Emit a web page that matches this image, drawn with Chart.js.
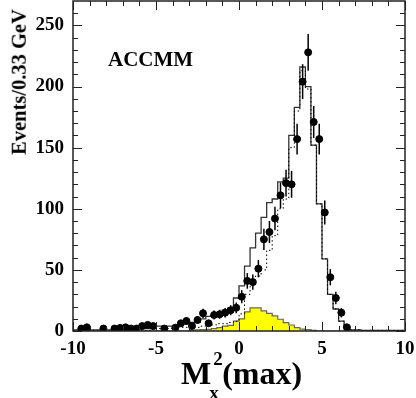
<!DOCTYPE html>
<html lang="en">
<head>
<meta charset="UTF-8">
<title>ACCMM M_x^2(max)</title>
<script src="https://cdn.jsdelivr.net/npm/chart.js"></script>
<style>
  body { margin: 0; background: #fff; }
  #wrap { position: relative; width: 416px; height: 398px; overflow: hidden; font-family: "Liberation Serif", "DejaVu Serif", serif; font-weight: bold; color: #000; }
  #wrap canvas { position: absolute; left: 0; top: 0; }
  .lbl { position: absolute; white-space: nowrap; line-height: 1; }
  #ytitle { font-size: 20.5px; left: 19px; top: 82px; transform: translate(-50%, -50%) rotate(-90deg); }
  #model { font-size: 21px; left: 108px; top: 49px; }
  #xtitle { font-size: 32px; left: 181px; top: 357px; }
  #xtitle .ss { display: inline-block; position: relative; width: 11px; height: 1px; }
  #xtitle .sup { position: absolute; left: 2px; top: -34px; font-size: 19px; }
  #xtitle .sub { position: absolute; left: -2px; top: 0px; font-size: 19px; }
</style>
</head>
<body>
<div id="wrap">
  <canvas id="c" width="416" height="398"></canvas>
  <div class="lbl" id="ytitle">Events/0.33 GeV</div>
  <div class="lbl" id="model">ACCMM</div>
  <div class="lbl" id="xtitle">M<span class="ss"><span class="sup">2</span><span class="sub">x</span></span>(max)</div>
</div>
<script>
// 60 bins of 0.33 GeV from -10 to 10
const nBins = 60;
const binEdges = Array.from({ length: nBins + 1 }, (_, k) => -10 + k / 3);
const binCenters = Array.from({ length: nBins }, (_, k) => -10 + (k + 0.5) / 3);

// data points (null = empty bin)
const dataValues = [
  null, 2, 3, null, null, 2, null, 2, 2.5, 3,
  2, 2, 4, 5, 4, null, 2, null, 2.7, 6.3,
  8.2, 4.1, 9, 14.5, 6.3, 13.1, 13.7, 15, 17, 19,
  28, 41, 40, 51, 75, 81, 92, 111, 121, 120,
  157, 204, 228, 171, 157, 97, 44, 27, 15, 3,
  null, null, null, null, null, null, null, null, null, null
];
const dataErrors = [
  0, 1.4, 1.7, 0, 0, 1.4, 0, 1.4, 1.6, 1.7,
  1.4, 1.4, 2, 2.2, 2, 0, 1.4, 0, 1.6, 2.5,
  2.9, 2, 3, 3.8, 2.5, 3.6, 3.7, 3.9, 4.1, 4.4,
  5.3, 6.4, 6.3, 7.1, 8.7, 9, 9.6, 10.5, 11, 11,
  12.5, 14.3, 15.1, 13.1, 12.5, 9.8, 6.6, 5.2, 3.9, 1.7,
  0, 0, 0, 0, 0, 0, 0, 0, 0, 0
];
// solid histogram
const solidHist = [
  1, 1, 1, 1, 1, 1, 1, 1, 1.5, 1.5,
  1.5, 2, 2, 2, 2, 4, 4, 4, 4, 4,
  6, 6, 7, 7, 10, 12, 13, 14, 17, 19,
  27, 37, 53, 68, 80, 93, 105, 108, 122, 125,
  160, 183, 216, 200, 152, 104, 59, 30, 18, 8,
  3, 1, 1, 0.5, 0.5, 0.5, 0.5, 0.5, 0.5, 0.5
];
// dotted histogram
const dottedHist = [
  0.5, 0.5, 0.5, 0.5, 0.5, 0.5, 0.5, 0.5, 0.5, 0.5,
  0.5, 0.5, 0.5, 0.5, 0.5, 2, 2, 2, 2, 2,
  3, 3, 3, 3, 4, 5, 5, 6, 6, 7,
  8, 14, 30, 38, 45, 50, 66, 78, 100, 108,
  150, 180, 213, 198, 152, 104, 59, 30, 18, 8,
  3, 1, 1, 0.5, 0.5, 0.5, 0.5, 0.5, 0.5, 0.5
];
// yellow filled histogram
const yellowHist = [
  0, 0, 0, 0, 0, 0, 0, 0, 0, 0,
  0, 0, 0, 0, 0, 0, 0, 0, 0, 0,
  0, 0, 0.5, 1, 1.2, 1.4, 2, 2.7, 4, 4.6,
  8, 10, 15.6, 19, 19, 16.4, 14.5, 12.3, 9.6, 6.8,
  4.9, 2.7, 1.5, 1.2, 0.5, 0, 0, 0, 0, 0,
  0, 0, 0, 0, 0, 0, 0, 0, 0, 0
];

const xMajor = [-10, -5, 0, 5, 10];
const yMajor = [0, 50, 100, 150, 200, 250];
const xMinor = [-9, -8, -7, -6, -4, -3, -2, -1, 1, 2, 3, 4, 6, 7, 8, 9];
const yMinor = [10, 20, 30, 40, 60, 70, 80, 90, 110, 120, 130, 140, 160, 170, 180, 190, 210, 220, 230, 240, 260];

// step line points at bin edges
function steps(vals) {
  return binEdges.map((e, i) => ({ x: e, y: vals[Math.min(i, nBins - 1)] }));
}
const points = [];
const errs = [];
binCenters.forEach((c, i) => {
  if (dataValues[i] !== null) { points.push({ x: c, y: dataValues[i] }); errs.push(dataErrors[i]); }
});

const errorBars = {
  id: 'errorBars',
  beforeDatasetDraw(chart, args) {
    if (args.index !== 0) return;
    const ctx = chart.ctx, xs = chart.scales.x, ys = chart.scales.y;
    ctx.save();
    ctx.strokeStyle = '#000';
    ctx.lineWidth = 1.5;
    points.forEach((p, i) => {
      const px = xs.getPixelForValue(p.x);
      ctx.beginPath();
      ctx.moveTo(px, ys.getPixelForValue(p.y - errs[i]));
      ctx.lineTo(px, ys.getPixelForValue(p.y + errs[i]));
      ctx.stroke();
    });
    ctx.restore();
  }
};

const frame = {
  id: 'frame',
  afterDraw(chart) {
    const ctx = chart.ctx, a = chart.chartArea, xs = chart.scales.x, ys = chart.scales.y;
    ctx.save();
    ctx.strokeStyle = '#222';
    ctx.lineWidth = 1.5;
    ctx.strokeRect(a.left, a.top, a.right - a.left, a.bottom - a.top);
    ctx.lineWidth = 1;
    ctx.beginPath();
    const xt = (v, len) => {
      const p = Math.round(xs.getPixelForValue(v)) + 0.5;
      ctx.moveTo(p, a.bottom); ctx.lineTo(p, a.bottom - len);
      ctx.moveTo(p, a.top); ctx.lineTo(p, a.top + len);
    };
    const yt = (v, len) => {
      const p = Math.round(ys.getPixelForValue(v)) + 0.5;
      ctx.moveTo(a.left, p); ctx.lineTo(a.left + len, p);
      ctx.moveTo(a.right, p); ctx.lineTo(a.right - len, p);
    };
    xMajor.forEach(v => xt(v, 9));
    xMinor.forEach(v => xt(v, 5));
    yMajor.forEach(v => yt(v, 9));
    yMinor.forEach(v => yt(v, 5));
    ctx.stroke();
    ctx.restore();
  }
};

const tickFont = { family: '"Liberation Serif", serif', size: 19, weight: 'bold' };

new Chart(document.getElementById('c'), {
  type: 'scatter',
  data: {
    datasets: [
      { label: 'data', data: points, order: 0, pointRadius: 3.5, pointBackgroundColor: '#000', pointBorderColor: '#000', showLine: false },
      { label: 'dotted', data: steps(dottedHist), type: 'line', stepped: 'after', order: 1, borderColor: '#000', borderWidth: 1, borderDash: [1.5, 2.5], pointRadius: 0, fill: false },
      { label: 'solid', data: steps(solidHist), type: 'line', stepped: 'after', order: 2, borderColor: '#333', borderWidth: 1.3, pointRadius: 0, fill: false },
      { label: 'yellow', data: steps(yellowHist), type: 'line', stepped: 'after', order: 3, borderColor: '#666', borderWidth: 1.2, backgroundColor: '#ffff00', pointRadius: 0, fill: 'origin' }
    ]
  },
  options: {
    responsive: false,
    animation: false,
    layout: { autoPadding: false, padding: { top: 1, right: 11, left: 0, bottom: 0 } },
    plugins: { legend: { display: false }, tooltip: { enabled: false } },
    scales: {
      x: {
        type: 'linear', min: -10, max: 10,
        grid: { display: false, drawTicks: false },
        border: { display: false },
        afterBuildTicks: s => { s.ticks = xMajor.map(v => ({ value: v })); },
        afterFit: s => { s.height = 67; s.paddingLeft = 0; s.paddingRight = 0; },
        ticks: { font: tickFont, color: '#000', padding: 7, maxRotation: 0, autoSkip: false }
      },
      y: {
        type: 'linear', min: 0, max: 270,
        grid: { display: false, drawTicks: false },
        border: { display: false },
        afterBuildTicks: s => { s.ticks = yMajor.map(v => ({ value: v })); },
        afterFit: s => { s.width = 73; s.paddingTop = 0; s.paddingBottom = 0; },
        ticks: { font: tickFont, color: '#000', padding: 9 }
      }
    }
  },
  plugins: [errorBars, frame]
});
</script>
</body>
</html>
